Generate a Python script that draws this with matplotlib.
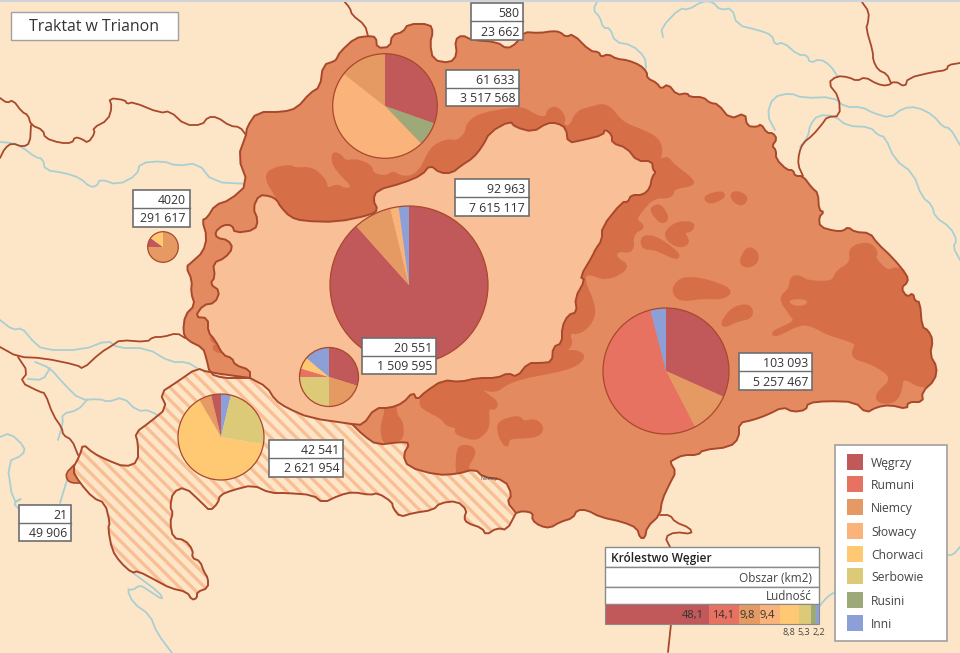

# Traktat w Trianon - map with pies
import numpy as np
import matplotlib
matplotlib.use('Agg')
import matplotlib.pyplot as plt
from matplotlib.patches import Polygon, Rectangle, Circle

plt.rcParams['font.family'] = ['Open Sans', 'DejaVu Sans']

# Data
nations = ['Węgrzy', 'Rumuni', 'Niemcy', 'Słowacy', 'Chorwaci', 'Serbowie', 'Rusini', 'Inni']
nation_colors = ['#C1585A', '#E77262', '#E49A62', '#FAB37A', '#FFC974', '#DDCA78', '#9DA978', '#8C9FD6']

pie_center_share = [88.4, 7.8, 1.7, 2.1]
pie_center_names = ['Węgrzy', 'Niemcy', 'Słowacy', 'Inni']
pie_north_share = [30.4, 7.4, 47.8, 14.4]
pie_north_names = ['Węgrzy', 'Rusini', 'Słowacy', 'Niemcy']
pie_east_share = [31.7, 10.7, 53.6, 4.0]
pie_east_names = ['Węgrzy', 'Niemcy', 'Rumuni', 'Inni']
pie_south_share = [29.8, 20.2, 25.0, 4.7, 6.4, 13.9]
pie_south_names = ['Węgrzy', 'Niemcy', 'Serbowie', 'Rumuni', 'Chorwaci', 'Inni']
pie_croatia_share = [3.7, 24.0, 63.9, 4.7, 3.7]
pie_croatia_names = ['Inni', 'Serbowie', 'Chorwaci', 'Niemcy', 'Węgrzy']
pie_austria_share = [75.0, 10.0, 15.0]
pie_austria_names = ['Niemcy', 'Węgrzy', 'Chorwaci']

area_labels = ['580', '61 633', '92 963', '20 551', '42 541', '21', '4020', '103 093']
pop_labels = ['23 662', '3 517 568', '7 615 117', '1 509 595', '2 621 954', '49 906', '291 617', '5 257 467']

kingdom_share = [48.1, 14.1, 9.8, 9.4, 8.8, 5.3, 2.5, 1.4]
kingdom_inside = ['48,1', '14,1', '9,8', '9,4']
kingdom_below = ['8,8', '5,3', '2,2']

BG = '#FDE6C8'
SOLID = '#E38A60'
DARK = '#D66F48'
PALE = '#F9BF96'
LINE = '#A9482B'
RIVER = '#A9CFD3'
STRIPE = '#F9BE94'
H = 653

# Map outlines, pixel coords
north = [(246,135),(247,127),(257,112),(283,112),(297,108),(310,93),(320,87),(323,65),(335,61),(337,58),(340,52),(355,38),(368,36),(376,37),(377,48),(390,47),(392,35),(403,32),(408,24),(430,24),(433,32),(430,43),(433,60),(450,63),(457,55),(455,40),(462,35),(472,40),(497,42),(507,49),(517,43),(523,32),(540,33),(553,31),(560,32),(566,37),(573,34),(590,51),(599,52),(601,57),(608,54),(617,59),(627,60),(640,65),(647,72),(647,78),(657,83),(661,89),(668,84),(677,95),(687,93),(690,97),(703,97),(710,103),(718,104),(730,119),(745,113),(747,126),(757,127),(761,124),(767,133),(773,133),(777,139),(772,146),(776,150),(776,159),(787,170),(793,170),(795,176),(803,176),(812,188),(818,193),(819,210),(824,212),(819,217),(820,227),(835,231),(843,231),(848,227),(855,232),(870,233),(877,243),(893,258)]
east = [(907,275),(908,282),(901,288),(907,297),(913,293),(915,301),(920,302),(922,327),(928,330),(933,340),(930,355),(937,367),(935,380),(922,392),(923,402),(908,402),(907,409),(890,405),(877,407),(866,413),(855,402),(827,401),(808,403),(806,410),(793,412),(783,407),(767,415),(753,420),(739,423),(739,438),(730,447),(703,450),(698,455),(683,455),(673,460),(670,462),(676,472),(670,483),(662,500),(660,515),(647,527),(645,538),(640,538),(637,528),(623,522),(600,517),(587,510),(577,510),(573,518),(560,522),(550,528),(540,526),(532,520),(533,513),(523,511),(516,513)]
south_shared = [(516,513),(507,502),(512,495),(505,480),(483,477),(475,469),(457,474),(437,475),(408,467),(403,455),(410,443),(400,442),(377,445),(363,435),(352,424)]
sw_pale = [(352,424),(310,418),(287,408),(275,400),(267,387),(250,378)]
burgenland = [(250,378),(240,378),(223,378),(210,374),(206,357),(203,348),(187,340),(183,332),(185,315),(195,305),(191,293),(192,280),(186,267),(192,262),(203,252),(207,237),(202,220),(207,218),(215,205),(230,200),(248,184),(238,157),(246,135)]
pale_edge = [(352,424),(363,425),(375,408),(390,408),(403,403),(413,392),(417,400),(425,392),(443,380),(460,382),(477,378),(497,378),(508,373),(517,377),(528,363),(540,363),(552,362),(553,347),(562,343),(562,327),(568,315),(577,312),(575,298),(585,280),(580,277),(593,255),(595,250),(602,240),(602,227),(622,202),(628,202),(631,195),(643,195),(650,188),(652,177),(656,172),(653,170),(652,161),(637,161),(627,148),(612,143),(612,135),(605,129),(603,135),(583,140),(568,143),(566,128),(557,123),(547,123),(533,132),(515,127),(510,121),(490,132),(482,147),(473,158),(462,165),(452,173),(440,173),(430,165),(422,175),(403,183),(377,190),(373,200),(378,210),(370,215),(337,222),(303,221),(290,217),(280,206),(277,200),(270,196),(259,195),(253,208),(258,220),(255,230),(235,233),(232,225),(223,225),(215,232),(217,238),(228,240),(233,248),(225,258),(213,263),(215,277),(210,284),(220,291),(215,303),(203,305),(195,317),(208,318),(208,332),(215,340),(223,355),(232,358),(235,365),(250,370),(250,378)]
croatia_rest = [(516,513),(507,530),(497,528),(486,535),(482,528),(467,523),(464,518),(467,510),(457,501),(440,503),(433,510),(413,513),(400,517),(393,508),(392,502),(378,493),(370,495),(353,492),(340,495),(323,503),(313,495),(287,493),(270,493),(253,485),(233,490),(220,495),(218,503),(210,511),(202,503),(185,487),(173,492),(170,507),(173,513),(170,522),(173,538),(185,540),(193,550),(192,558),(200,561),(204,572),(208,578),(208,588),(197,592),(197,598),(192,600),(187,592),(170,588),(157,581),(138,571),(132,573),(120,562),(112,550),(108,528),(110,523),(105,503),(93,498),(80,483),(72,470),(80,455),(83,444),(93,453),(107,460),(125,467),(138,462),(138,443),(135,433),(150,422),(167,408),(160,393),(177,382),(197,368),(207,372),(250,378)]
tip = [(74,465),(66,473),(67,480),(72,483),(80,483),(75,472)]

# Mountains
band = [(267,173),(277,168),(290,166),(295,169),(312,168),(325,180),(327,190),(337,185),(345,190),(354,187),(340,173),(333,163),(333,153),(340,155),(345,162),(355,160),(370,165),(373,175),(387,177),(393,172),(400,177),(413,177),(422,168),(427,157),(433,147),(447,140),(458,142),(467,132),(467,125),(478,115),(510,109),(523,108),(537,117),(547,118),(548,110),(557,107),(565,118),(562,125),(570,128),(577,112),(590,108),(607,104),(622,123),(640,130),(657,138),(662,150),(658,162),(667,157),(673,165),(693,180),(692,185),(673,188),(672,197),(653,197),(640,212),(635,220),(645,227),(632,233),(633,252),(617,250),(615,258),(630,267),(607,280),(587,272),(583,280),(595,307),(592,322),(580,333),(568,332),(572,345),(563,352),(577,351),(585,357),(573,367),(547,373),(525,377),(507,383),(495,392),(477,387),(487,395),(497,402),(495,409),(487,407),(489,427),(480,437),(472,439),(455,433),(458,427),(447,425),(442,418),(427,410),(420,405),(423,395),(430,380),(350,300),(285,215),(275,193),(268,183)]
blobs = [
    [(382,432),(383,422),(387,410),(380,400),(395,400),(395,415),(402,423),(402,438),(393,442),(385,443)],
    [(458,450),(463,446),(473,448),(474,455),(467,465),(468,473),(462,477),(457,473)],
    [(498,423),(513,418),(520,418),(523,423),(535,420),(543,428),(537,436),(517,437),(508,438),(507,447),(500,437)],
    [(704,197),(722,192),(724,197),(710,203)],
    [(732,193),(740,193),(747,198),(742,205),(733,200)],
    [(652,208),(660,205),(668,218),(662,223),(653,213)],
    [(666,232),(677,223),(693,223),(692,230),(682,232),(689,242),(680,247),(668,240)],
    [(642,237),(655,237),(678,253),(677,259),(655,248),(643,248)],
    [(740,262),(748,247),(757,253),(757,262),(747,267)],
    [(674,287),(683,278),(705,280),(732,290),(723,298),(703,297),(683,300),(675,295)],
    [(722,323),(733,308),(750,305),(752,317),(737,320),(725,326)],
    [(773,332),(797,322),(790,313),(780,298),(790,290),(792,277),(800,277),(807,282),(833,283),(837,272),(852,263),(850,248),(868,243),(877,252),(873,258),(888,273),(897,267),(912,282),(925,300),(945,340),(945,380),(922,388),(902,375),(900,393),(893,402),(880,402),(876,395),(895,378),(873,363),(855,358),(853,352),(858,343),(840,337),(827,333),(813,325),(800,323),(775,336)],
    [(213,335),(218,340),(216,343),(211,339)],
    [(215,345),(222,350),(220,352),(214,349)],
]
hole = [(789,300),(807,300),(805,305),(793,305)]

# Other borders
borders = [
    [(343,0),(350,8),(352,15),(365,25),(368,36)],
    [(862,2),(869,12),(868,23),(866,28),(873,52),(873,60),(878,70),(887,74),(891,83)],
    [(803,176),(798,165),(799,153),(803,143),(813,135),(823,123),(827,117),(840,116),(839,97),(828,83),(837,76),(848,77),(857,81),(865,77),(877,84),(887,86),(895,81),(905,87),(908,78),(933,72),(947,70),(948,65),(960,63)],
    [(0,98),(7,103),(13,100),(22,112),(28,115),(31,125),(43,130),(45,138),(60,143),(72,143),(75,137),(82,139),(88,143),(95,133),(93,128),(108,120),(112,107),(109,98),(125,100),(127,104),(133,102),(160,113),(170,111),(185,125),(202,125),(208,117),(217,117),(230,126),(240,127),(246,135)],
    [(31,125),(30,143),(23,147),(12,143),(5,148),(0,158)],
    [(0,347),(18,357),(43,358),(77,365),(83,369),(100,353),(113,345),(120,340),(147,342),(153,337),(163,337),(177,333),(185,338)],
    [(18,357),(28,372),(20,382),(40,392),(45,393),(53,415),(62,428),(63,435),(72,440),(78,455)],
    [(660,515),(670,515),(675,522),(690,528),(692,534),(675,532),(665,537),(670,547)],
    [(671,624),(668,652)],
    [(248,184),(259,195)],
]

rivers = [
    [(0,142),(12,143),(22,147),(35,157),(43,159),(45,170),(65,173),(80,178),(90,187),(97,186),(100,179),(118,185),(137,175),(140,163),(163,161),(177,166),(198,163),(213,182),(248,184)],
    [(0,320),(13,330),(22,328),(32,340)],
    [(35,362),(50,368),(63,383),(80,400),(100,399),(108,402),(123,397),(137,411),(150,410),(168,423)],
    [(28,379),(43,380),(50,368)],
    [(87,400),(78,410),(62,414),(63,423),(58,440)],
    [(32,340),(43,350),(83,350),(108,340),(117,348),(147,348),(170,362),(187,362),(197,368)],
    [(0,437),(10,433),(25,447),(23,455),(7,462),(13,503),(23,498),(13,503),(20,510)],
    [(67,480),(60,503)],
    [(133,573),(160,593),(163,600),(148,590),(140,585),(133,590),(127,589),(133,603),(150,615),(157,633),(172,653)],
    [(818,608),(827,597),(835,592)],
    [(947,555),(953,555),(960,547)],
    [(598,0),(593,10),(600,17),(603,28),(610,28),(615,42),(632,45),(645,57),(646,68)],
    [(663,37),(661,28),(680,8),(688,10),(703,1),(713,2),(720,10),(732,8),(737,25),(758,30),(772,35),(775,45),(783,42),(798,55),(807,55),(810,63),(820,59),(830,65),(838,77)],
    [(775,130),(767,115),(773,97),(790,93),(803,98),(833,97),(845,107),(862,107),(873,113),(890,118),(903,108),(917,107),(933,115),(943,127),(950,128),(960,145)],
    [(800,147),(808,137),(810,125),(818,115),(835,116),(847,126),(870,127),(878,135),(885,137),(895,160),(913,173),(922,197),(932,205),(935,217),(950,227),(957,240),(953,247),(960,260)],
]

def flip(pts):
    return [(x, H - y) for x, y in pts]

def chaikin(pts, n=1, closed=False):
    p = np.array(pts, dtype=float)
    for _ in range(n):
        q = np.roll(p, -1, axis=0)
        a = 0.75 * p + 0.25 * q
        b = 0.25 * p + 0.75 * q
        new = np.empty((len(p) * 2, 2))
        new[0::2] = a
        new[1::2] = b
        if closed:
            p = new
        else:
            p = np.vstack([p[0], new[:-2], p[-1]])
    return p

def line(pts, color, lw, z, smooth=1):
    p = chaikin(flip(pts), smooth)
    ax.plot(p[:, 0], p[:, 1], color=color, lw=lw, zorder=z, solid_capstyle='round', solid_joinstyle='round')

def draw_pie(share, names, cx, cy, r):
    cols = [nation_colors[nations.index(n)] for n in names]
    ax.pie(share, colors=cols, startangle=90, counterclock=False, center=(cx, H - cy), radius=r,
           normalize=True, wedgeprops=dict(linewidth=0, zorder=8))
    ax.add_patch(Circle((cx, H - cy), r, fc='none', ec=LINE, lw=0.9, zorder=9))

def box(x0, x1, y0, y1, ec='#6E6E6E', lw=1.2, z=10):
    ax.add_patch(Rectangle((x0, H - y1), x1 - x0, y1 - y0, fc='white', ec=ec, lw=lw, zorder=z))

def label_box(x0, x1, y0, ym, y1, top, bottom):
    box(x0, x1, y0, y1)
    ax.plot([x0, x1], [H - ym, H - ym], color='#6E6E6E', lw=1.0, zorder=11)
    ax.text(x1 - 4, H - (y0 + ym) / 2, top, ha='right', va='center_baseline', fontsize=8.8, color='#333333', zorder=12)
    ax.text(x1 - 4, H - (ym + y1) / 2, bottom, ha='right', va='center_baseline', fontsize=8.8, color='#333333', zorder=12)

fig = plt.figure(figsize=(9.6, 6.53), dpi=100, facecolor=BG)
ax = fig.add_axes([0, 0, 1, 1])
ax.set_facecolor(BG)

for r in rivers:
    line(r, RIVER, 1.3, 2)
for b in borders:
    line(b, LINE, 1.3, 3)

# Kingdom area
outer = north + east + south_shared + sw_pale[1:] + burgenland[1:]
outer_xy = chaikin(flip(outer), 1, True)
outer_patch = Polygon(outer_xy, closed=True, fc=SOLID, ec='none', zorder=4)
ax.add_patch(outer_patch)

p = Polygon(chaikin(flip(band), 2, True), closed=True, fc=DARK, ec=DARK, lw=2, joinstyle='round', zorder=4.2)
ax.add_patch(p)
p.set_clip_path(outer_patch)
for b in blobs:
    p = Polygon(chaikin(flip(b), 2, True), closed=True, fc=DARK, ec=DARK, lw=2.5, joinstyle='round', zorder=4.2)
    ax.add_patch(p)
    p.set_clip_path(outer_patch)
ax.add_patch(Polygon(chaikin(flip(hole), 2, True), closed=True, fc=SOLID, ec=SOLID, lw=1, zorder=4.3))

# Trianon Hungary
pale_xy = chaikin(flip(pale_edge + sw_pale[1:-1][::-1]), 1, True)
ax.add_patch(Polygon(pale_xy, closed=True, fc=PALE, ec='none', zorder=5))

# Croatia with stripes
croatia = south_shared + sw_pale[1:] + croatia_rest[::-1][1:]
croatia_xy = chaikin(flip(croatia), 1, True)
cro_patch = Polygon(croatia_xy, closed=True, fc=BG, ec='none', zorder=5)
ax.add_patch(cro_patch)
for c in np.arange(-700, 960, 12.7):
    l, = ax.plot([c, c + 700], [H, H - 700], color=STRIPE, lw=2.4, zorder=5.5, solid_capstyle='butt')
    l.set_clip_path(cro_patch)
ax.add_patch(Polygon(chaikin(flip(tip), 1, True), closed=True, fc=SOLID, ec='none', zorder=5.6))

# Outlines on top
line(north + east, LINE, 1.4, 6)
line(south_shared, LINE, 1.4, 6)
line(sw_pale, LINE, 1.4, 6)
line(burgenland, LINE, 1.4, 6)
line(pale_edge, LINE, 1.4, 6)
line(croatia_rest, LINE, 1.4, 6)
line(tip[:5], LINE, 1.2, 6)

ax.text(489, H - 478.5, 'Niemcy', fontsize=3.5, color='#444444', ha='center', va='center', zorder=7)

# Pies
draw_pie(pie_center_share, pie_center_names, 409, 285, 79)
draw_pie(pie_north_share, pie_north_names, 385, 106, 52.3)
draw_pie(pie_east_share, pie_east_names, 666, 371, 63)
draw_pie(pie_south_share, pie_south_names, 329, 377, 29.5)
draw_pie(pie_croatia_share, pie_croatia_names, 221, 437, 43)
draw_pie(pie_austria_share, pie_austria_names, 163, 247, 15.3)

# Number boxes
label_box(471, 523, 3, 21, 40, area_labels[0], pop_labels[0])
label_box(446, 519, 70, 88, 106, area_labels[1], pop_labels[1])
label_box(455, 529, 179, 197, 216, area_labels[2], pop_labels[2])
label_box(362, 436, 338, 356, 374, area_labels[3], pop_labels[3])
label_box(269, 343, 440, 458, 477, area_labels[4], pop_labels[4])
label_box(19, 71, 505, 523, 541, area_labels[5], pop_labels[5])
label_box(133, 190, 190, 208, 227, area_labels[6], pop_labels[6])
label_box(739, 812, 353, 371, 390, area_labels[7], pop_labels[7])

# Title
box(10.5, 178, 11.5, 39.5, ec='#A0A0A0', lw=1.0)
ax.text(94, H - 25, 'Traktat w Trianon', ha='center', va='center_baseline', fontsize=11.4, color='#333333', zorder=12)

# Legend
box(835, 947, 445, 641, ec='#A0A0A0', lw=1.2)
legend_y = [462, 484, 507, 531, 554, 576, 600, 623]
for n, c, y in zip(nations, nation_colors, legend_y):
    ax.add_patch(Rectangle((847, H - y - 8), 16, 16, fc=c, ec='none', zorder=11))
    ax.text(871, H - y, n, ha='left', va='center_baseline', fontsize=8.7, color='#444444', zorder=12)

# Kingdom panel
box(605, 819, 547, 567, ec='#8A8A8A', lw=1.0)
box(605, 819, 567, 587, ec='#8A8A8A', lw=1.0)
box(605, 819, 587, 604, ec='#8A8A8A', lw=1.0)
ax.text(611, H - 557, 'Królestwo Węgier', ha='left', va='center_baseline', fontsize=8.6, fontweight='semibold', color='#222222', zorder=12)
ax.text(812, H - 577, 'Obszar (km2)', ha='right', va='center_baseline', fontsize=8.5, color='#444444', zorder=12)
ax.text(812, H - 595.5, 'Ludność', ha='right', va='center_baseline', fontsize=8.5, color='#444444', zorder=12)

scale = 214 / sum(kingdom_share)
left = 605
for i, v in enumerate(kingdom_share):
    w = v * scale
    ax.barh(H - 614, w, height=20, left=left, color=nation_colors[i], edgecolor='none', zorder=10)
    if i < len(kingdom_inside):
        ax.text(left + w - 5, H - 614, kingdom_inside[i], ha='right', va='center_baseline', fontsize=8, color='#333333', zorder=12)
    left += w
ax.add_patch(Rectangle((605, H - 624), 214, 20, fc='none', ec='#8A8A8A', lw=0.8, zorder=11))
for s, x in zip(kingdom_below, [789, 804, 819]):
    ax.text(x, H - 632, s, ha='center', va='center_baseline', fontsize=6.5, color='#444444', zorder=12)

# thin line along the top edge
ax.plot([0, 960], [H - 0.5, H - 0.5], color='#CFD3DA', lw=1.5, zorder=20)

ax.set_xlim(0, 960)
ax.set_ylim(0, H)
ax.set_aspect('auto')
ax.axis('off')
fig.savefig('out.png', dpi=100, facecolor=BG)
